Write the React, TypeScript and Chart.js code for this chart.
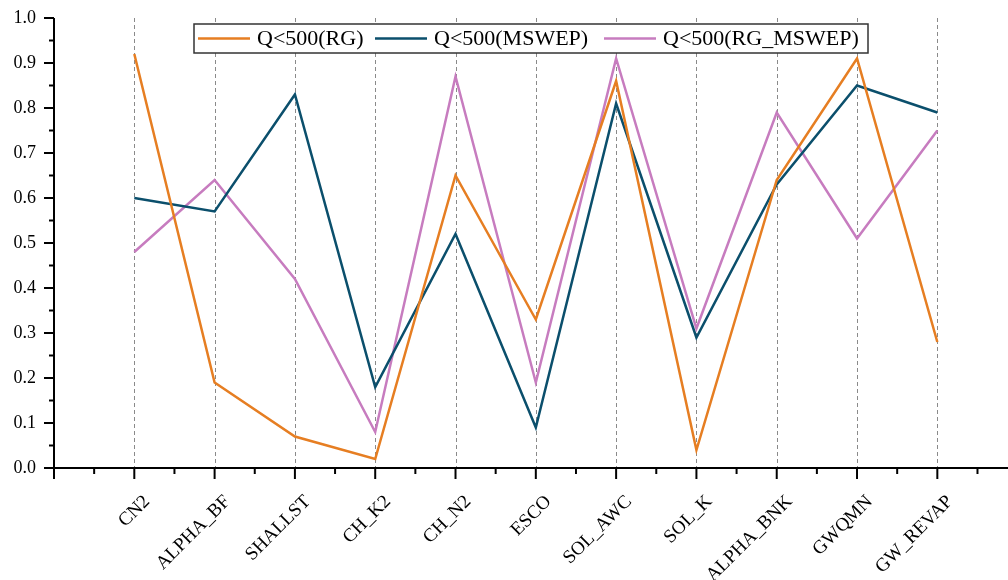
import { useEffect, useRef } from 'react';
import { Chart, registerables } from 'chart.js';

Chart.register(...registerables);

// Parameters along the x axis
const categories = [
  'CN2', 'ALPHA_BF', 'SHALLST', 'CH_K2', 'CH_N2', 'ESCO',
  'SOL_AWC', 'SOL_K', 'ALPHA_BNK', 'GWQMN', 'GW_REVAP',
];

// Series values, one per parameter
const rgValues = [0.92, 0.19, 0.07, 0.02, 0.65, 0.33, 0.86, 0.04, 0.64, 0.91, 0.28];
const mswepValues = [0.60, 0.57, 0.83, 0.18, 0.52, 0.09, 0.81, 0.29, 0.63, 0.85, 0.79];
const rgMswepValues = [0.48, 0.64, 0.42, 0.08, 0.87, 0.19, 0.91, 0.31, 0.79, 0.51, 0.75];

const seriesNames = ['Q<500(RG)', 'Q<500(MSWEP)', 'Q<500(RG_MSWEP)'];
const seriesColors = ['#E67E22', '#0B4F6C', '#C77CBF'];

// Y axis range and tick labels
const yMin = 0;
const yMax = 1;
const yStep = 0.1;
const yTickLabels = ['0.0', '0.1', '0.2', '0.3', '0.4', '0.5', '0.6', '0.7', '0.8', '0.9', '1.0'];

const FONT = '"Liberation Serif", "Times New Roman", serif';

const decorPlugin = {
  id: 'decor',
  beforeDatasetsDraw(chart: any) {
    const { ctx, scales } = chart;
    const xs = scales.x;
    const ys = scales.y;
    const top = ys.getPixelForValue(yMax);
    const bottom = ys.getPixelForValue(yMin);
    ctx.save();
    ctx.strokeStyle = '#8a8a8a';
    ctx.lineWidth = 1;
    ctx.setLineDash([4, 3]);
    categories.forEach((_, i) => {
      const px = Math.round(xs.getPixelForValue(i)) + 0.5;
      ctx.beginPath();
      ctx.moveTo(px, top);
      ctx.lineTo(px, bottom);
      ctx.stroke();
    });
    ctx.restore();
  },
  afterDatasetsDraw(chart: any) {
    const { ctx, scales, chartArea } = chart;
    const xs = scales.x;
    const ys = scales.y;
    const axisX = chartArea.left;
    const axisY = ys.getPixelForValue(yMin);
    const topY = ys.getPixelForValue(yMax);
    ctx.save();
    ctx.strokeStyle = '#000';
    ctx.lineWidth = 2;
    ctx.setLineDash([]);

    // axis lines
    ctx.beginPath();
    ctx.moveTo(axisX, topY);
    ctx.lineTo(axisX, axisY + 11);
    ctx.moveTo(axisX - 10, axisY);
    ctx.lineTo(chart.width, axisY);
    ctx.stroke();

    // y ticks: major every step, minor halfway
    for (let k = 0; k < yTickLabels.length; k++) {
      const v = yMin + k * yStep;
      const py = ys.getPixelForValue(v);
      ctx.beginPath();
      ctx.moveTo(axisX - 10, py);
      ctx.lineTo(axisX, py);
      ctx.stroke();
      if (k < yTickLabels.length - 1) {
        const pm = ys.getPixelForValue(v + yStep / 2);
        ctx.beginPath();
        ctx.moveTo(axisX - 5, pm);
        ctx.lineTo(axisX, pm);
        ctx.stroke();
      }
    }

    // x ticks: major at each category, minor halfway
    for (let i = -1; i < categories.length; i++) {
      const px = xs.getPixelForValue(i);
      ctx.beginPath();
      ctx.moveTo(px, axisY);
      ctx.lineTo(px, axisY + 11);
      ctx.stroke();
      const pm = xs.getPixelForValue(i + 0.5);
      if (pm < chart.width) {
        ctx.beginPath();
        ctx.moveTo(pm, axisY);
        ctx.lineTo(pm, axisY + 6);
        ctx.stroke();
      }
    }

    // rotated category labels
    ctx.fillStyle = '#000';
    ctx.font = `19px ${FONT}`;
    ctx.textAlign = 'right';
    ctx.textBaseline = 'top';
    categories.forEach((label, i) => {
      const px = xs.getPixelForValue(i);
      ctx.save();
      ctx.translate(px + 6, axisY + 24);
      ctx.rotate(-Math.PI / 4);
      ctx.fillText(label, 0, 0);
      ctx.restore();
    });

    // legend box
    const bx = 194;
    const by = 24;
    const bw = 674;
    const bh = 29;
    ctx.fillStyle = '#fff';
    ctx.fillRect(bx, by, bw, bh);
    ctx.strokeStyle = '#333';
    ctx.lineWidth = 1.5;
    ctx.strokeRect(bx, by, bw, bh);
    const midY = by + bh / 2;
    const lineStarts = [198, 375, 604];
    ctx.font = `22px ${FONT}`;
    ctx.textAlign = 'left';
    ctx.textBaseline = 'middle';
    seriesNames.forEach((name, i) => {
      const lx = lineStarts[i];
      ctx.strokeStyle = seriesColors[i];
      ctx.lineWidth = 2.5;
      ctx.beginPath();
      ctx.moveTo(lx, midY);
      ctx.lineTo(lx + 52, midY);
      ctx.stroke();
      ctx.fillStyle = '#000';
      ctx.fillText(name, lx + 59, midY + 1);
    });
    ctx.restore();
  },
};

export default function App() {
  const canvasRef = useRef<HTMLCanvasElement | null>(null);

  useEffect(() => {
    const canvas = canvasRef.current;
    if (!canvas) return;
    const seriesValues = [rgValues, mswepValues, rgMswepValues];
    const chart = new Chart(canvas, {
      type: 'line',
      data: {
        datasets: seriesValues.map((vals, s) => ({
          label: seriesNames[s],
          data: vals.map((v, i) => ({ x: i, y: v })),
          borderColor: seriesColors[s],
          backgroundColor: seriesColors[s],
          borderWidth: 2.5,
          pointRadius: 0,
          tension: 0,
          fill: false,
        })),
      },
      options: {
        responsive: false,
        animation: false,
        layout: { padding: { top: 18, right: 0, left: 0, bottom: 0 } },
        plugins: {
          legend: { display: false },
          tooltip: { enabled: false },
        },
        scales: {
          x: {
            type: 'linear',
            min: -1,
            max: 10.88,
            ticks: { display: false },
            grid: { display: false, drawTicks: false },
            border: { display: false },
            afterFit: (s: any) => {
              s.height = 112;
              s.paddingLeft = 0;
              s.paddingRight = 0;
            },
          },
          y: {
            type: 'linear',
            min: yMin,
            max: yMax,
            ticks: {
              stepSize: yStep,
              padding: 18,
              color: '#000',
              font: { family: FONT, size: 18 },
              callback: (v: any) => {
                const idx = Math.round((Number(v) - yMin) / yStep);
                return yTickLabels[idx] ?? '';
              },
            },
            grid: { display: false, drawTicks: false },
            border: { display: false },
            afterFit: (s: any) => {
              s.width = 54;
              s.paddingTop = 0;
              s.paddingBottom = 0;
            },
          },
        },
      },
      plugins: [decorPlugin],
    });
    return () => chart.destroy();
  }, []);

  return (
    <div style={{ position: 'absolute', left: 0, top: 0, width: 1008, height: 580, background: '#fff' }}>
      <canvas ref={canvasRef} width={1008} height={580} />
    </div>
  );
}
